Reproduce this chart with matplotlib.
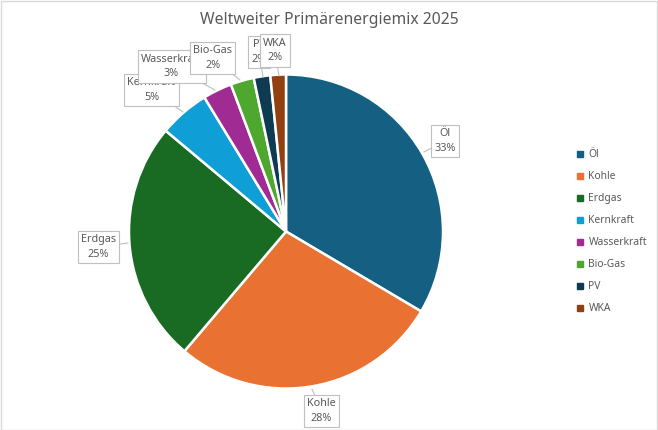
import matplotlib.pyplot as plt
from matplotlib.lines import Line2D

plt.rcParams['font.family'] = ['Noto Sans', 'DejaVu Sans']

# Daten
traeger = ['Öl', 'Kohle', 'Erdgas', 'Kernkraft', 'Wasserkraft', 'Bio-Gas', 'PV', 'WKA']
anteile = [33.5, 27.7, 24.9, 5.2, 3.0, 2.4, 1.7, 1.6]
prozent_text = ['33%', '28%', '25%', '5%', '3%', '2%', '2%', '2%']
farben = ['#156082', '#E97132', '#196B24', '#0F9ED5', '#A02B93', '#4EA72E', '#0E3B52', '#923F12']

# Position der Beschriftungen (Pixel im Bild) und Zielpunkt am Rand
label_px = [(445, 141), (321.5, 411), (98.5, 247), (151.5, 90),
            (171.5, 66.5), (212.5, 58), (259, 52), (275, 50.5)]
ziel_px = [(424, 152), (312, 389), (128, 243), (183, 112),
           (215, 90), (240, 80), (263, 77), (279, 76)]

W, H = 658, 430
CX, CY, R = 286, 231.5, 157

fig = plt.figure(figsize=(W / 100, H / 100), dpi=100)
fig.patch.set_facecolor('white')

ax = fig.add_axes([(CX - 160) / W, (H - CY - 160) / H, 320 / W, 320 / H])
ax.pie(anteile, colors=farben, startangle=90, counterclock=False,
       wedgeprops=dict(edgecolor='white', linewidth=1.8), radius=1)
ax.set_xlim(-160 / R, 160 / R)
ax.set_ylim(-160 / R, 160 / R)
ax.set_aspect('equal')
ax.axis('off')


def to_data(p):
    return ((p[0] - CX) / R, (CY - p[1]) / R)


for i, name in enumerate(traeger):
    ax.annotate(name + '\n' + prozent_text[i], xy=to_data(ziel_px[i]), xytext=to_data(label_px[i]),
                ha='center', va='center', fontsize=7.8, color='#595959', linespacing=1.45,
                annotation_clip=False, zorder=10 + i,
                bbox=dict(boxstyle='square,pad=0.3', fc='white', ec='#BFBFBF', lw=0.8),
                arrowprops=dict(arrowstyle='-', color='#BFBFBF', lw=0.8, shrinkA=0, shrinkB=0))

fig.text(0.5, 1 - 20 / H, 'Weltweiter Primärenergiemix 2025', ha='center', va='center',
         fontsize=11.3, color='#595959')

handles = [Line2D([], [], marker='s', linestyle='none', markersize=4.5, color=c) for c in farben]
fig.legend(handles, traeger, loc='upper left', bbox_to_anchor=(572 / W, 1 - 144 / H),
           frameon=False, fontsize=7.4, labelcolor='#595959', handlelength=0.6,
           handletextpad=0.5, labelspacing=1.07, borderpad=0)

# Rahmen ums Diagramm
fig.add_artist(plt.Rectangle((0.5 / W, 0.5 / H), 1 - 1.5 / W, 1 - 1.5 / H, transform=fig.transFigure,
                             fill=False, ec='#D9D9D9', lw=1))

fig.savefig('out.png', dpi=100)
